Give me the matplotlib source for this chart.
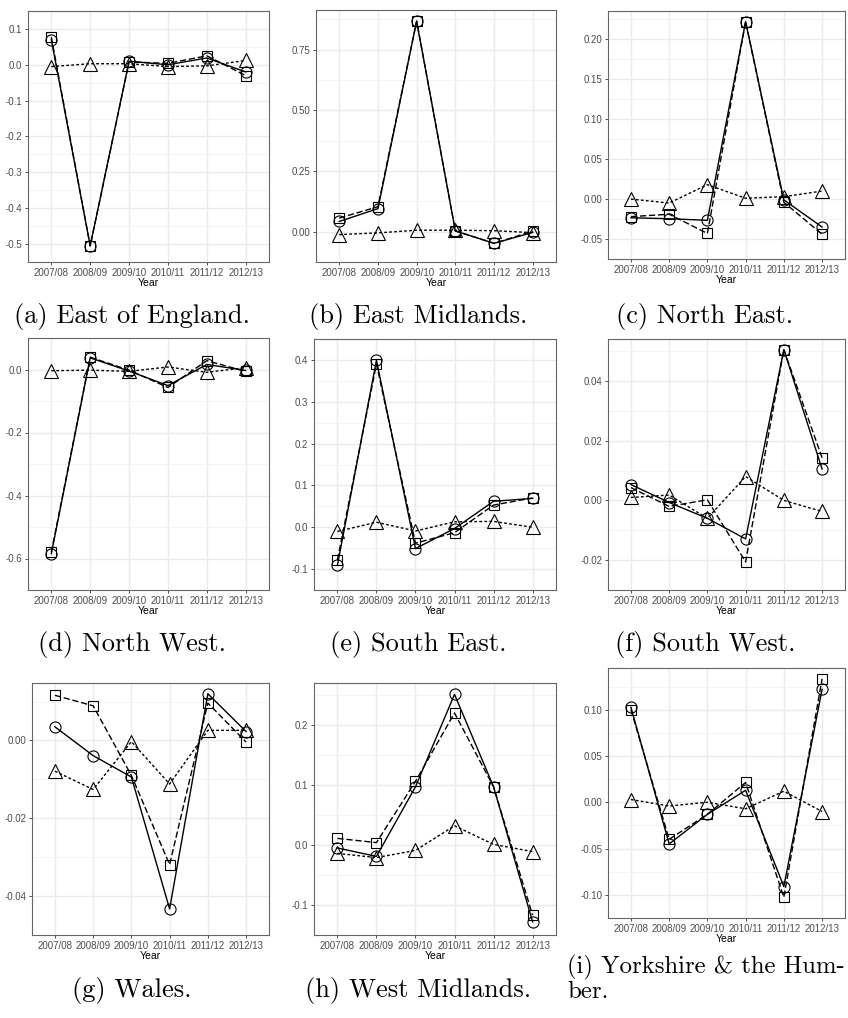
import matplotlib
matplotlib.use("Agg")
import matplotlib.pyplot as plt
import numpy as np

years = ["2007/08", "2008/09", "2009/10", "2010/11", "2011/12", "2012/13"]

# (a) East of England
a_solid = [0.070, -0.505, 0.010, 0.000, 0.019, -0.020]
a_dashed = [0.077, -0.505, 0.008, 0.004, 0.025, -0.030]
a_dotted = [-0.005, 0.003, 0.003, -0.005, -0.003, 0.012]
a_ticks = ["-0.5", "-0.4", "-0.3", "-0.2", "-0.1", "0.0", "0.1"]

# (b) East Midlands
b_solid = [0.042, 0.095, 0.868, 0.003, -0.048, -0.003]
b_dashed = [0.056, 0.103, 0.868, 0.003, -0.048, 0.002]
b_dotted = [-0.012, -0.005, 0.006, 0.006, 0.004, -0.004]
b_ticks = ["0.00", "0.25", "0.50", "0.75"]

# (c) North East
c_solid = [-0.0234, -0.0246, -0.0266, 0.222, -0.001, -0.035]
c_dashed = [-0.022, -0.019, -0.043, 0.222, -0.004, -0.044]
c_dotted = [0.000, -0.005, 0.018, 0.001, 0.003, 0.010]
c_ticks = ["-0.05", "0.00", "0.05", "0.10", "0.15", "0.20"]

# (d) North West
d_solid = [-0.585, 0.037, -0.005, -0.051, 0.016, -0.003]
d_dashed = [-0.580, 0.039, -0.002, -0.057, 0.028, -0.006]
d_dotted = [-0.004, -0.002, -0.006, 0.008, -0.009, 0.006]
d_ticks = ["-0.6", "-0.4", "-0.2", "0.0"]

# (e) South East
e_solid = [-0.091, 0.399, -0.051, -0.003, 0.062, 0.069]
e_dashed = [-0.078, 0.390, -0.038, -0.013, 0.053, 0.070]
e_dotted = [-0.010, 0.012, -0.009, 0.013, 0.014, 0.000]
e_ticks = ["-0.1", "0.0", "0.1", "0.2", "0.3", "0.4"]

# (f) South West
f_solid = [0.0053, -0.0007, -0.0060, -0.0129, 0.0505, 0.0105]
f_dashed = [0.0043, -0.0020, 0.0002, -0.0206, 0.0505, 0.0143]
f_dotted = [0.0010, 0.0018, -0.0060, 0.0080, 0.0000, -0.0037]
f_ticks = ["-0.02", "0.00", "0.02", "0.04"]

# (g) Wales
g_solid = [0.0035, -0.0039, -0.0094, -0.0433, 0.0120, 0.0023]
g_dashed = [0.0116, 0.0089, -0.0090, -0.0319, 0.0096, -0.0004]
g_dotted = [-0.0079, -0.0126, -0.0003, -0.0112, 0.0026, 0.0026]
g_ticks = ["-0.04", "-0.02", "0.00"]

# (h) West Midlands
h_solid = [-0.005, -0.019, 0.097, 0.251, 0.097, -0.128]
h_dashed = [0.011, 0.004, 0.106, 0.220, 0.097, -0.117]
h_dotted = [-0.014, -0.021, -0.009, 0.032, 0.001, -0.011]
h_ticks = ["-0.1", "0.0", "0.1", "0.2"]

# (i) Yorkshire & the Humber
i_solid = [0.1027, -0.045, -0.013, 0.013, -0.091, 0.122]
i_dashed = [0.100, -0.040, -0.013, 0.0214, -0.1026, 0.1333]
i_dotted = [0.003, -0.004, 0.000, -0.007, 0.012, -0.010]
i_ticks = ["-0.10", "-0.05", "0.00", "0.05", "0.10"]

captions = ["(a) East of England.", "(b) East Midlands.", "(c) North East.",
            "(d) North West.", "(e) South East.", "(f) South West.",
            "(g) Wales.", "(h) West Midlands.", "(i) Yorkshire & the Hum-"]
caption_tail = "ber."

W, H = 848, 1018
fig = plt.figure(figsize=(W / 100, H / 100), dpi=100)

# panel boxes in pixels: left, right, top, bottom
boxes = [(28, 269, 11, 262), (316, 556, 10, 262), (608, 845, 11, 259),
         (28, 269, 338, 590), (314, 556, 339, 590), (608, 845, 339, 590),
         (32, 269, 683, 935), (314, 556, 683, 935), (608, 845, 668, 918)]
# caption anchors (x centre / left for (i), baseline y) in pixels
cap_pos = [(132, 323), (418, 323), (705, 323),
           (132, 651), (418, 651), (705, 651),
           (132, 997), (418, 997), (567, 973)]

panels = [(a_solid, a_dashed, a_dotted, a_ticks),
          (b_solid, b_dashed, b_dotted, b_ticks),
          (c_solid, c_dashed, c_dotted, c_ticks),
          (d_solid, d_dashed, d_dotted, d_ticks),
          (e_solid, e_dashed, e_dotted, e_ticks),
          (f_solid, f_dashed, f_dotted, f_ticks),
          (g_solid, g_dashed, g_dotted, g_ticks),
          (h_solid, h_dashed, h_dotted, h_ticks),
          (i_solid, i_dashed, i_dotted, i_ticks)]

x = np.arange(len(years))
grid_col = "#EBEBEB"

for k, (solid, dashed, dotted, ticks) in enumerate(panels):
    l, r, t, b = boxes[k]
    ax = fig.add_axes([l / W, 1 - b / H, (r - l) / W, (b - t) / H])

    ax.plot(x, dotted, color="black", lw=1.0, ls=(0, (2, 1.6)), marker="^",
            ms=10, mfc="none", mec="black", mew=0.8)
    ax.plot(x, dashed, color="black", lw=1.0, ls=(0, (4.5, 2)), marker="s",
            ms=7.5, mfc="none", mec="black", mew=0.8)
    ax.plot(x, solid, color="black", lw=1.0, ls="-", marker="o",
            ms=8, mfc="none", mec="black", mew=0.8)

    allv = np.concatenate([solid, dashed, dotted])
    lo, hi = allv.min(), allv.max()
    pad = 0.05 * (hi - lo)
    ax.set_ylim(lo - pad, hi + pad)
    ax.set_xlim(-0.6, len(years) - 0.4)

    tv = [float(s) for s in ticks]
    step = tv[1] - tv[0]
    minors = [tv[0] - step / 2] + [v + step / 2 for v in tv]
    ax.set_yticks(tv)
    ax.set_yticklabels(ticks)
    ax.set_yticks(minors, minor=True)
    ax.set_xticks(x)
    ax.set_xticklabels(years)

    ax.grid(True, which="major", color=grid_col, lw=1.0)
    ax.grid(True, which="minor", axis="y", color="#F2F2F2", lw=0.6)
    ax.set_axisbelow(True)
    ax.tick_params(which="minor", left=False)
    ax.tick_params(which="major", length=2.5, width=0.6, color="#333333",
                   labelsize=7, labelcolor="#4D4D4D", pad=1.5)
    for sp in ax.spines.values():
        sp.set_color("#666666")
        sp.set_linewidth(0.8)
    ax.set_xlabel("Year", fontsize=7.5, labelpad=0,
                  fontfamily="Liberation Sans")
    for lab in ax.get_xticklabels() + ax.get_yticklabels():
        lab.set_fontfamily("Liberation Sans")

    cx, cy = cap_pos[k]
    if k == 8:
        fig.text(cx / W, 1 - cy / H, captions[k], ha="left", va="baseline",
                 fontsize=17.8, fontfamily="cmr10")
        fig.text(cx / W, 1 - 998 / H, caption_tail, ha="left", va="baseline",
                 fontsize=17.8, fontfamily="cmr10")
    else:
        fig.text(cx / W, 1 - cy / H, captions[k], ha="center", va="baseline",
                 fontsize=19, fontfamily="cmr10")

fig.savefig("out.png", dpi=100)
